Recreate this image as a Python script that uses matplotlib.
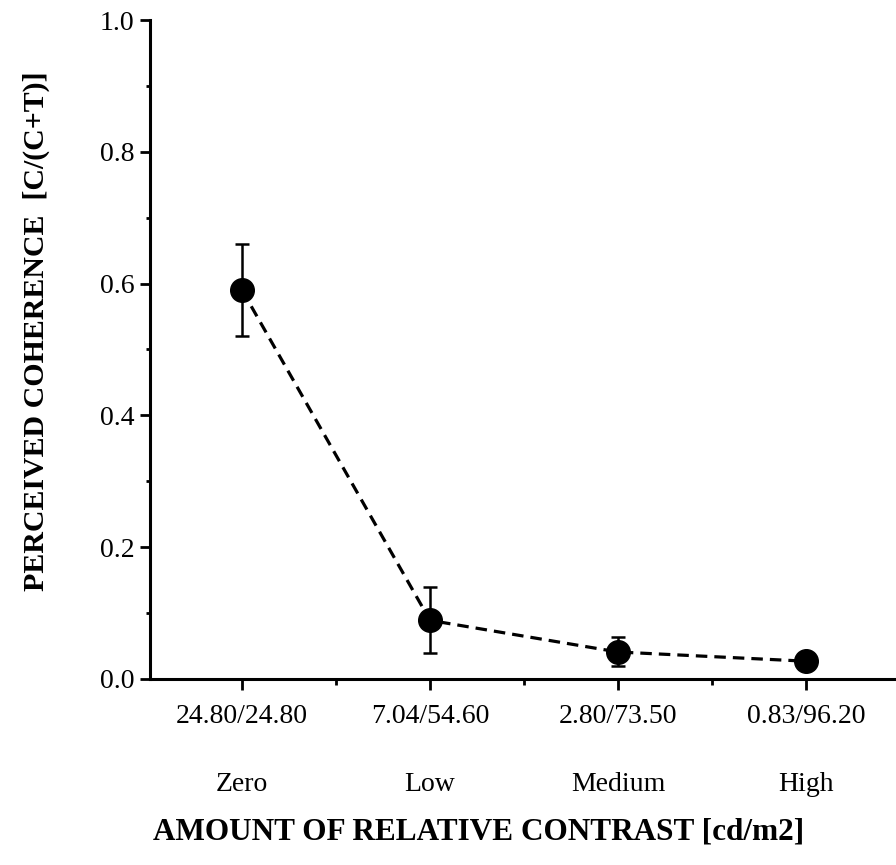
import matplotlib
matplotlib.use("Agg")
import matplotlib.pyplot as plt
from matplotlib.ticker import MultipleLocator, FixedLocator
import numpy as np

contrast_labels = ["24.80/24.80", "7.04/54.60", "2.80/73.50", "0.83/96.20"]
contrast_levels = ["Zero", "Low", "Medium", "High"]
coherence = [0.59, 0.089, 0.041, 0.027]
errors = [0.07, 0.05, 0.022, 0.0]

plt.rcParams['font.family'] = ['Liberation Serif', 'DejaVu Serif']

fig = plt.figure(figsize=(8.96, 8.65), dpi=100)
ax = fig.add_axes([150/896, 1-679/865, 746/896, 659/865])

x = np.arange(len(coherence))
ax.plot(x, coherence, linestyle=(0, (3.6, 2.2)), color='black', linewidth=2.3, zorder=2)
ax.errorbar(x, coherence, yerr=errors, fmt='none', ecolor='black', elinewidth=1.8,
            capsize=5, capthick=1.8, zorder=3)
ax.plot(x, coherence, 'o', color='black', markersize=17, zorder=4)

ax.set_xlim(-0.49, 3.48)
ax.set_ylim(0, 1.0)

ax.spines['top'].set_visible(False)
ax.spines['right'].set_visible(False)
ax.spines['left'].set_linewidth(2.2)
ax.spines['bottom'].set_linewidth(2.2)

ax.set_xticks(x)
ax.set_xticklabels(contrast_labels, fontsize=20)
ax.xaxis.set_minor_locator(FixedLocator([0.5, 1.5, 2.5]))
ax.yaxis.set_major_locator(MultipleLocator(0.2))
ax.yaxis.set_minor_locator(MultipleLocator(0.1))
ax.set_yticks([0, 0.2, 0.4, 0.6, 0.8, 1.0])
ax.set_yticklabels(["0.0", "0.2", "0.4", "0.6", "0.8", "1.0"], fontsize=20)

ax.tick_params(axis='x', which='major', direction='out', length=8, width=2, pad=10)
ax.tick_params(axis='x', which='minor', direction='out', length=4, width=2)
ax.tick_params(axis='y', which='major', direction='out', length=7, width=2, pad=4)
ax.tick_params(axis='y', which='minor', direction='out', length=3, width=2)

for xi, name in zip(x, contrast_levels):
    ax.annotate(name, xy=(xi, 0), xycoords=('data', 'axes fraction'),
                xytext=(0, -76), textcoords='offset points',
                ha='center', va='center', fontsize=20)

ax.set_xlabel("AMOUNT OF RELATIVE CONTRAST [cd/m2]", fontsize=22.5, fontweight='bold')
ax.xaxis.set_label_coords(0.44, -0.21)
ax.set_ylabel("PERCEIVED COHERENCE  [C/(C+T)]", fontsize=21.5, fontweight='bold')
ax.yaxis.set_label_coords(-0.134, 0.528)

fig.savefig("out.png", dpi=100)
